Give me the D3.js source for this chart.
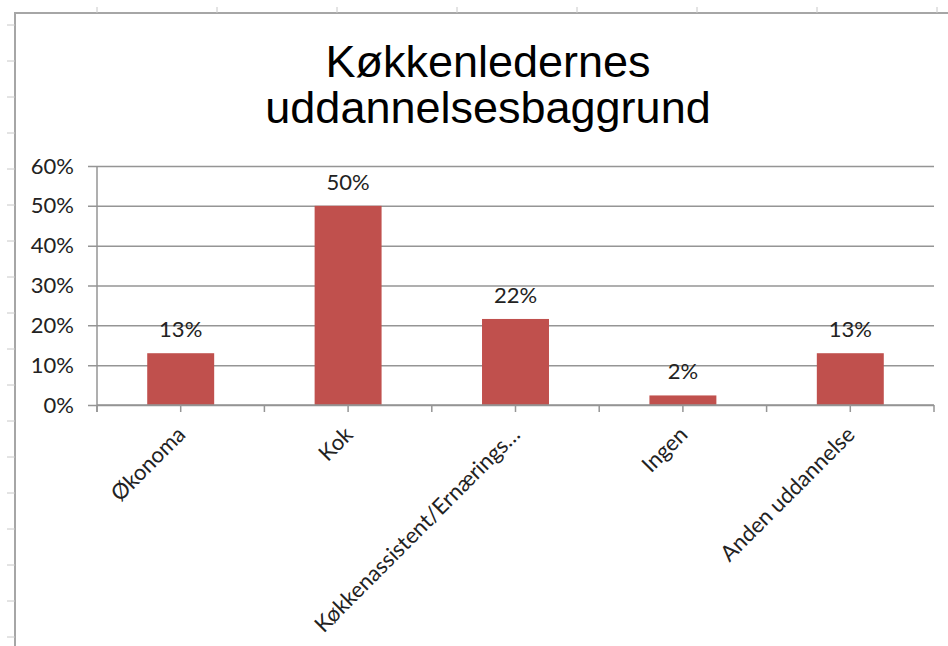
<!DOCTYPE html>
<html>
<head>
<meta charset="utf-8">
<script src="https://cdn.jsdelivr.net/npm/d3@7"></script>
<style>
body { margin: 0; background: #fff; }
svg { display: block; }
</style>
</head>
<body>
<svg id="chart"></svg>
<script>
// chart data
var categories = ["Økonoma", "Kok", "Køkkenassistent/Ernærings…", "Ingen", "Anden uddannelse"];
var shares = [0.13, 0.50, 0.216, 0.024, 0.13];
var yTicks = [0, 0.1, 0.2, 0.3, 0.4, 0.5, 0.6];
var titleLines = ["Køkkenledernes", "uddannelsesbaggrund"];

var screen = {width: 948, height: 646};
var margins = {top: 166, bottom: 241, left: 97, right: 14};
var graph = {
    width: screen.width - margins.left - margins.right,
    height: screen.height - margins.top - margins.bottom
};

var svg = d3.select("#chart")
    .attr("width", screen.width)
    .attr("height", screen.height);

var labelFont = "Lato, 'Open Sans', sans-serif";
var labelSize = "22px";
var frameColor = "#a6a6a6";

// spreadsheet frame behind the chart
var frame = svg.append("g");
frame.append("line")
    .attr("x1", 15).attr("x2", 15).attr("y1", 13).attr("y2", screen.height)
    .attr("stroke", frameColor).attr("stroke-width", 2);
frame.append("line")
    .attr("x1", 14).attr("x2", screen.width).attr("y1", 13).attr("y2", 13)
    .attr("stroke", frameColor).attr("stroke-width", 2);
frame.selectAll(".rowtick")
    .data(d3.range(25, screen.height, 36))
    .enter().append("line")
    .attr("x1", 7).attr("x2", 15)
    .attr("y1", function(d) { return d; })
    .attr("y2", function(d) { return d; })
    .attr("stroke", "#c8c8c8");
frame.selectAll(".coltick")
    .data(d3.range(97, screen.width, 120))
    .enter().append("line")
    .attr("x1", function(d) { return d; })
    .attr("x2", function(d) { return d; })
    .attr("y1", 7).attr("y2", 13)
    .attr("stroke", "#c8c8c8");

// title
svg.append("text")
    .attr("x", 488)
    .attr("y", 77)
    .attr("text-anchor", "middle")
    .style("font-family", "'Liberation Sans', Arial, sans-serif")
    .style("font-size", "45px")
    .style("fill", "#000")
    .selectAll("tspan")
    .data(titleLines)
    .enter().append("tspan")
    .attr("x", 488)
    .attr("dy", function(d, i) { return i == 0 ? 0 : 46; })
    .text(function(d) { return d; });

var xScale = d3.scaleBand()
    .domain(categories)
    .range([0, graph.width])
    .paddingInner(0.6)
    .paddingOuter(0.3);

var yScale = d3.scaleLinear()
    .domain([0, 0.6])
    .range([graph.height, 0]);

var g = svg.append("g")
    .attr("transform", "translate(" + margins.left + "," + margins.top + ")");

// gridlines + y axis
var yAxis = d3.axisLeft(yScale)
    .tickValues(yTicks)
    .tickFormat(d3.format(".0%"))
    .tickSize(9)
    .tickPadding(14);

var yAxisG = g.append("g").call(yAxis);
yAxisG.select(".domain").remove();
yAxisG.selectAll(".tick line")
    .attr("x2", graph.width)
    .attr("x1", -9)
    .attr("stroke", "#959595")
    .attr("stroke-width", 1.5);
yAxisG.selectAll(".tick text")
    .style("font-family", labelFont)
    .style("font-size", labelSize)
    .style("fill", "#222");

g.append("line")
    .attr("x1", 0).attr("x2", 0)
    .attr("y1", 0).attr("y2", graph.height + 7)
    .attr("stroke", "#959595").attr("stroke-width", 1.5);

// bars
g.selectAll("rect.bar")
    .data(shares)
    .enter().append("rect")
    .attr("class", "bar")
    .attr("x", function(d, i) { return xScale(categories[i]); })
    .attr("width", xScale.bandwidth())
    .attr("y", function(d) { return yScale(d); })
    .attr("height", function(d) { return graph.height - yScale(d); })
    .attr("fill", "#c0504d");

// value labels
g.selectAll("text.value")
    .data(shares)
    .enter().append("text")
    .attr("class", "value")
    .attr("x", function(d, i) { return xScale(categories[i]) + xScale.bandwidth() / 2; })
    .attr("y", function(d) { return yScale(d) - 16; })
    .attr("text-anchor", "middle")
    .style("font-family", labelFont)
    .style("font-size", labelSize)
    .style("fill", "#222")
    .text(function(d) { return d3.format(".0%")(d); });

// x axis: ticks at band centres and boundaries
var xAxisG = g.append("g")
    .attr("transform", "translate(0," + graph.height + ")");
xAxisG.append("line")
    .attr("x1", 0).attr("x2", graph.width)
    .attr("stroke", "#959595").attr("stroke-width", 1.5);

var step = xScale.step();
var tickXs = d3.range(0, categories.length * 2 + 1).map(function(k) { return k * step / 2; });
xAxisG.selectAll("line.xtick")
    .data(tickXs)
    .enter().append("line")
    .attr("class", "xtick")
    .attr("x1", function(d) { return d; })
    .attr("x2", function(d) { return d; })
    .attr("y1", 0).attr("y2", 7)
    .attr("stroke", "#959595").attr("stroke-width", 1.5);

xAxisG.selectAll("text.cat")
    .data(categories)
    .enter().append("text")
    .attr("class", "cat")
    .attr("transform", function(d) {
        var cx = xScale(d) + xScale.bandwidth() / 2 + 6;
        return "translate(" + cx + ",31) rotate(-45)";
    })
    .attr("text-anchor", "end")
    .style("font-family", labelFont)
    .style("font-size", labelSize)
    .style("fill", "#222")
    .text(function(d) { return d; });
</script>
</body>
</html>
